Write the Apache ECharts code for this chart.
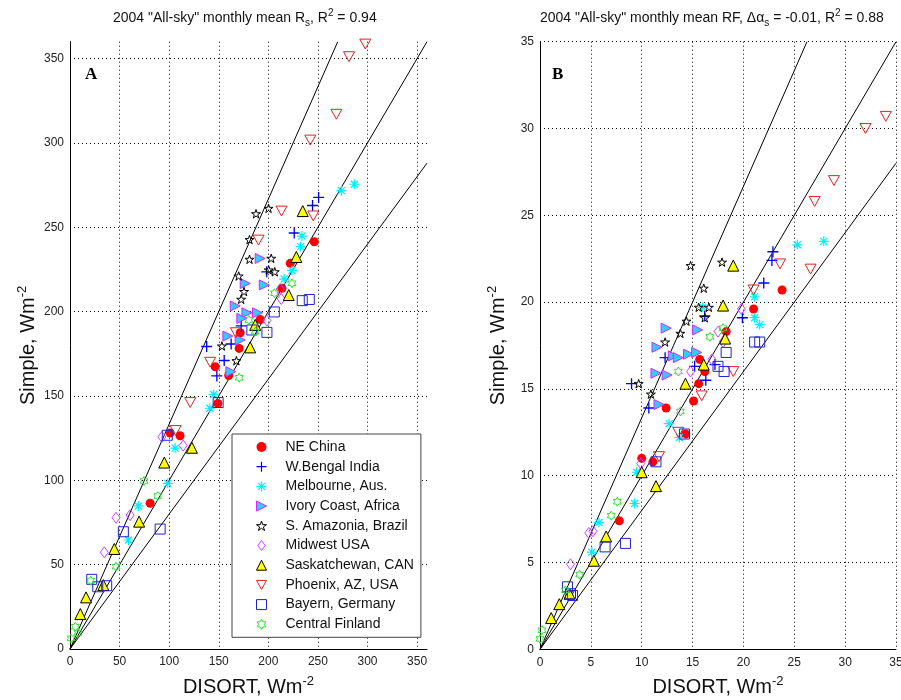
<!DOCTYPE html>
<html>
<head>
<meta charset="utf-8">
<script src="https://cdn.jsdelivr.net/npm/echarts@6/dist/echarts.min.js"></script>
<style>
  html, body { margin: 0; background: #fff; }
  #chart { width: 901px; height: 700px; }
</style>
</head>
<body>
<div id="chart"></div>
<script>
// site names (legend order)
const siteNames = [
  "NE China", "W.Bengal India", "Melbourne, Aus.", "Ivory Coast, Africa",
  "S. Amazonia, Brazil", "Midwest USA", "Saskatchewan, CAN",
  "Phoenix, AZ, USA", "Bayern, Germany", "Central Finland",
];

// panel A: monthly mean Rs  [DISORT, Simple]
const neChinaA = [[246.3,241.4],[222.1,228.6],[213.7,213.8],[191.8,195.3],[171.6,187.5],[170.6,178.2],[146.4,167.3],[160,162.1],[149.1,145.6],[111,126.4],[101,128],[80.8,86.4]];
const bengalA = [[250.7,267.7],[244.6,262.9],[226.1,246.6],[198.4,223.6],[172.6,191.5],[162.5,180.8],[137.8,179.3],[155.5,171],[148.1,161.9]];
const melbourneA = [[286.7,275.5],[273.6,271.7],[233.9,244.8],[232.5,238.5],[223.8,224.4],[216,219.3],[144.9,150.9],[141,142.7],[106,119.1],[98.6,98.2],[69,84.8],[58.9,64.6]];
const ivoryA = [[191.8,231.5],[176.7,216.7],[195.9,215.8],[166.6,203.3],[178.4,199.3],[189.1,199.3],[173.3,196],[159.2,185.5],[171.6,183.2],[162.2,164.4]];
const amazoniaA = [[200.2,261.2],[187.6,258],[181,242.7],[181,231],[202.9,231.6],[170.1,221.1],[175.5,211.9],[172.6,207.3],[200.4,224.7],[206.5,223.6],[153.2,179.6],[167.8,170.9]];
const midwestA = [[212,213.4],[213,207.5],[198.6,194.7],[92.6,125.7],[114.1,120.6],[60.6,79.4],[46.4,77.8],[34.6,57.3]];
const saskA = [[234.7,259.6],[228.2,232.4],[220.6,209.8],[186.8,192.1],[181.7,178.8],[122.9,119.3],[95.1,110.5],[69.7,75.5],[44.7,59.3],[33.6,37.9],[16.2,30.6],[10.4,20.7]];
const phoenixA = [[297.8,358.6],[281.4,351.1],[268.6,317],[242.3,301.7],[213.3,259.6],[245.3,256.7],[190.1,242.4],[167.3,187.5],[141.3,170],[121.2,146.1],[106.5,129.5]];
const bayernA = [[206,199.8],[234.2,206.5],[241.3,207.2],[183.4,189.1],[198.6,187.7],[149.4,146.1],[98.1,126.7],[90.9,71.1],[53.8,69.5],[21.9,41.3],[28,36.9],[37,37.5]];
const finlandA = [[223.8,216.8],[206.2,210.9],[180.4,195],[186.8,188.1],[170.6,160.8],[74.7,99.6],[88.5,90.7],[46.4,48.8],[20.9,40.5],[8,9.5],[5.4,13.2],[1,6.3]];

// panel B: monthly mean RF  [DISORT, Simple]
const neChinaB = [[23.8,20.7],[21,19.6],[18.3,18.3],[15.7,16.7],[16.2,16],[15.6,15.3],[15.1,14.3],[12.4,13.9],[14.3,12.4],[10,11],[11.1,10.8],[7.8,7.4]];
const bengalB = [[22.9,22.9],[22.8,22.4],[22,21.1],[19.9,19.1],[17.2,16.4],[16.3,15.5],[15.2,16.3],[16.2,19.2],[12.3,16.8],[9,15.3],[10.7,13.9]];
const melbourneB = [[27.9,23.5],[25.3,23.3],[21.1,20.3],[21.1,19.1],[21.6,18.7],[16,19.7],[12.7,13],[13.7,12.2],[9.5,10.2],[9.3,8.4],[5.8,7.3],[5.1,5.6]];
const ivoryB = [[12.4,18.5],[11.5,17.4],[15.5,18.4],[13.1,16.9],[13.6,16.8],[14.6,17],[15.4,17.1],[11.4,15.9],[12.5,15.8],[11.7,14.1]];
const amazoniaB = [[14.8,22.1],[17.9,22.3],[16.1,20.8],[15.6,19.7],[16.6,19.7],[16.2,19.1],[14.4,18.9],[13.8,18.2],[12.3,17.7],[9.7,15.3],[10.9,14.7]];
const midwestB = [[19.8,19.6],[17.5,18.3],[18,17.7],[16.9,16.7],[14.8,16],[9.9,10.7],[4.8,6.7],[5.2,6.8],[3,4.9]];
const saskB = [[19,22.1],[18,19.8],[18.2,17.9],[16.1,16.4],[14.3,15.3],[10,10.2],[11.4,9.4],[6.5,6.5],[5.3,5.1],[2.9,3.2],[1.9,2.6],[1.1,1.8]];
const phoenixB = [[34,30.7],[32,30],[28.9,27],[27,25.8],[26.6,21.9],[23.6,22.2],[21,20.7],[19,16],[15.9,14.6],[13.6,12.5],[11.7,11.1]];
const bayernB = [[18.3,17.1],[21.1,17.7],[21.6,17.7],[17.5,16.3],[18.1,16],[14.2,12.4],[11.4,10.8],[6.4,5.9],[8.4,6.1],[2.7,3.6],[3,3.2],[3.2,3.1]];
const finlandB = [[16.7,18],[18,18.5],[13.6,16],[13.8,13.7],[7.6,8.5],[7,7.7],[3.9,4.3],[2.5,3.4],[0.2,1.1],[0,0.6]];

const dataA = [neChinaA, bengalA, melbourneA, ivoryA, amazoniaA, midwestA, saskA, phoenixA, bayernA, finlandA];
const dataB = [neChinaB, bengalB, melbourneB, ivoryB, amazoniaB, midwestB, saskB, phoenixB, bayernB, finlandB];

// reference lines: y = x/0.75, y = x, y = x/1.25
const refSlopes = [1 / 0.75, 1, 1 / 1.25];

const FONT = "Liberation Sans, Arial, sans-serif";

const PLUS = "path://M4.4,0h1.2v4.4h4.4v1.2h-4.4v4.4h-1.2v-4.4h-4.4v-1.2h4.4z";
const ASTER = "path://M4.4,0h1.2v4.4h4.4v1.2h-4.4v4.4h-1.2v-4.4h-4.4v-1.2h4.4z" +
  "M1.95,1.05L8.95,8.05L8.05,8.95L1.05,1.95Z" +
  "M8.05,1.05L8.95,1.95L1.95,8.95L1.05,8.05Z";
const STAR5 = "path://M5,0L6.12,3.46L9.76,3.46L6.81,5.59L7.94,9.05L5,6.9L2.06,9.05L3.19,5.59L0.24,3.46L3.88,3.46Z";
const STAR6 = "path://M5,0L6.44,2.5L9.33,2.5L7.89,5L9.33,7.5L6.44,7.5L5,10L3.56,7.5L0.67,7.5L2.11,5L0.67,2.5L3.56,2.5Z";
const DIAMOND = "path://M5,0L9,5.5L5,11L1,5.5Z";

const markers = [
  { symbol: "circle", size: 9, fill: "#ff0000", stroke: "#ff0000", bw: 0 },
  { symbol: PLUS, size: 11, fill: "#0000ee", stroke: "#0000ee", bw: 0 },
  { symbol: ASTER, size: 10, fill: "#00eeff", stroke: "#00eeff", bw: 0 },
  { symbol: "path://M0,0L10,5L0,10Z", size: 10, fill: "#33ccff", stroke: "#dd22ff", bw: 1 },
  { symbol: STAR5, size: 9, fill: "transparent", stroke: "#000", bw: 1 },
  { symbol: DIAMOND, size: 11, fill: "transparent", stroke: "#cc44ff", bw: 1 },
  { symbol: "triangle", size: 11, fill: "#ffff00", stroke: "#000", bw: 1 },
  { symbol: "path://M0,0L10,0L5,9Z", size: 11, fill: "transparent", stroke: "#dd2222", bw: 1 },
  { symbol: "rect", size: 10, fill: "transparent", stroke: "#2222cc", bw: 1 },
  { symbol: STAR6, size: 9, fill: "transparent", stroke: "#33dd33", bw: 1 },
];

const richSup = {
  sup: { fontSize: 10, fontFamily: FONT, color: "#111", verticalAlign: "top", lineHeight: 11 },
  sub: { fontSize: 10, fontFamily: FONT, color: "#111", verticalAlign: "bottom", lineHeight: 11 },
};
const nameRich = {
  sup: { fontSize: 13, fontFamily: FONT, color: "#111", verticalAlign: "top", lineHeight: 14 },
};

function xAxis(gridIndex, max, interval) {
  const onTick = max % interval === 0;
  return {
    type: "value", gridIndex, min: 0, max, interval,
    name: "DISORT, Wm{sup|-2}", nameLocation: "middle", nameGap: 26,
    nameTextStyle: { fontSize: 20, fontFamily: FONT, color: "#111", lineHeight: 24, rich: nameRich },
    axisLine: { show: true, onZero: false, lineStyle: { color: "#000", width: 1 } },
    axisTick: { show: false },
    axisLabel: { fontSize: 12, fontFamily: FONT, color: "#222", margin: 7, showMaxLabel: onTick },
    splitLine: { show: true, showMaxLine: onTick, lineStyle: { color: "#000", type: [1, 3], width: 1 } },
  };
}

function yAxis(gridIndex, max, interval) {
  const onTick = max % interval === 0;
  return {
    type: "value", gridIndex, min: 0, max, interval,
    name: "Simple, Wm{sup|-2}", nameLocation: "middle", nameGap: 30,
    nameTextStyle: { fontSize: 20, fontFamily: FONT, color: "#111", lineHeight: 24, rich: nameRich },
    axisLine: { show: true, onZero: false, lineStyle: { color: "#000", width: 1 } },
    axisTick: { show: false },
    axisLabel: { fontSize: 12, fontFamily: FONT, color: "#222", margin: 6, showMaxLabel: onTick },
    splitLine: { show: true, showMaxLine: onTick, lineStyle: { color: "#000", type: [1, 3], width: 1 } },
  };
}

function refLines(axisIndex, max) {
  return refSlopes.map((s) => {
    const xe = Math.min(max, max / s);
    return {
      type: "line", xAxisIndex: axisIndex, yAxisIndex: axisIndex,
      data: [[0, 0], [xe, xe * s]], symbol: "none", silent: true, z: 1,
      lineStyle: { color: "#000", width: 1 },
    };
  });
}

function scatters(axisIndex, sets) {
  return sets.map((d, i) => {
    const m = markers[i];
    return {
      type: "scatter", name: siteNames[i], xAxisIndex: axisIndex, yAxisIndex: axisIndex,
      data: d, symbol: m.symbol, symbolSize: m.size, symbolKeepAspect: true, z: 2,
      itemStyle: { color: m.fill, borderColor: m.stroke, borderWidth: m.bw, opacity: 1 },
    };
  });
}

const chart = echarts.init(document.getElementById("chart"), null, { renderer: "canvas" });
chart.setOption({
  animation: false,
  backgroundColor: "#fff",
  title: [
    {
      text: '2004 "All-sky" monthly mean R{sub|s}, R{sup|2} = 0.94',
      left: 113, top: 8, padding: 0,
      textStyle: { fontSize: 14, fontWeight: "normal", fontFamily: FONT, color: "#111", lineHeight: 20, rich: richSup },
    },
    {
      text: '2004 "All-sky" monthly mean RF, \u0394\u03b1{sub|s} = -0.01, R{sup|2} = 0.88',
      left: 540, top: 8, padding: 0,
      textStyle: { fontSize: 14, fontWeight: "normal", fontFamily: FONT, color: "#111", lineHeight: 20, rich: richSup },
    },
  ],
  grid: [
    { left: 70, top: 41.7, width: 357, height: 607.3, outerBoundsMode: "none" },
    { left: 540, top: 41.7, width: 356, height: 607.6, outerBoundsMode: "none" },
  ],
  xAxis: [xAxis(0, 360, 50), xAxis(1, 35, 5)],
  yAxis: [yAxis(0, 360, 50), yAxis(1, 35, 5)],
  legend: {
    orient: "vertical", left: 232, top: 434,
    padding: [6, 7, 6, 24], itemGap: 5.7, itemWidth: 10, itemHeight: 10,
    borderColor: "#444", borderWidth: 1, borderRadius: 0, backgroundColor: "#fff",
    selectedMode: false, z: 10,
    textStyle: { fontSize: 14, lineHeight: 14, fontFamily: FONT, color: "#111", padding: [0, 0, 0, 14] },
    data: siteNames.map((n, i) => ({
      name: n,
      itemStyle: { color: markers[i].fill, borderColor: markers[i].stroke, borderWidth: markers[i].bw },
    })),
  },
  graphic: [
    { type: "text", left: 85, top: 66, z: 10, style: { text: "A", font: 'bold 17px "Liberation Serif", serif', fill: "#000" } },
    { type: "text", left: 552, top: 66, z: 10, style: { text: "B", font: 'bold 17px "Liberation Serif", serif', fill: "#000" } },
  ],
  series: [
    ...refLines(0, 360),
    ...refLines(1, 35),
    ...scatters(0, dataA),
    ...scatters(1, dataB),
  ],
});
</script>
</body>
</html>
